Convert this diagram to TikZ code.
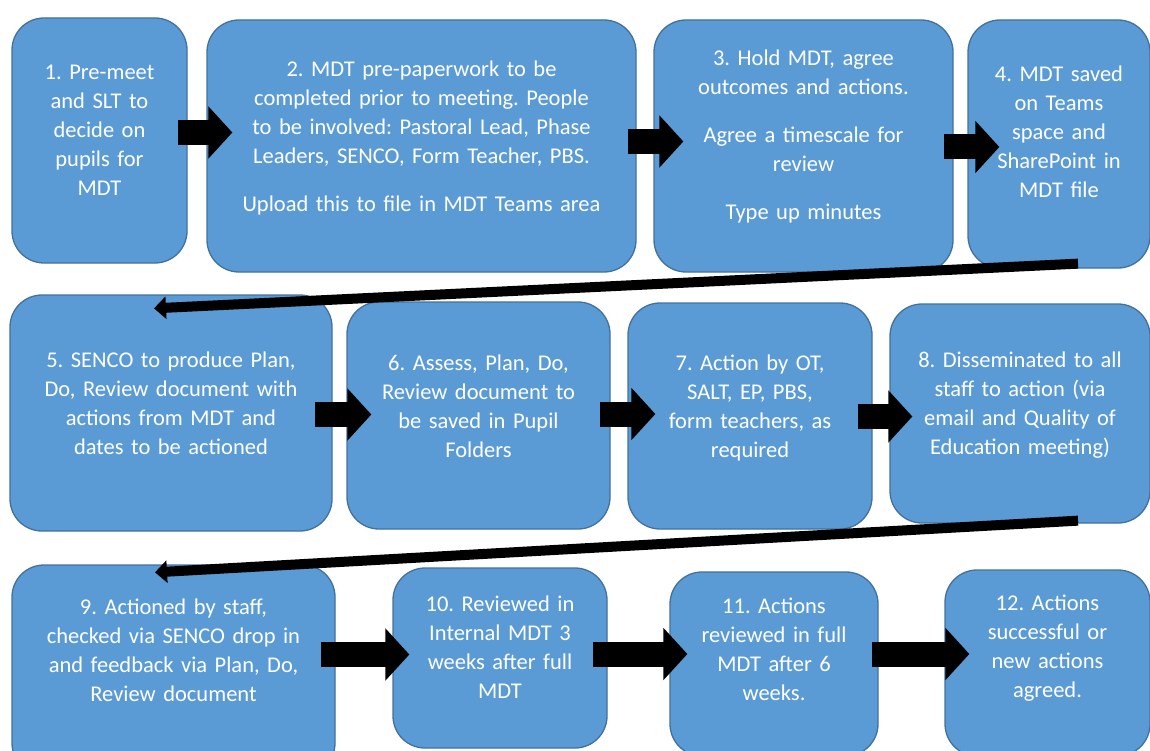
\documentclass[tikz,border=0pt]{standalone}
\usepackage{fontspec}
\setmainfont{Carlito}
\usetikzlibrary{arrows.meta,calc}
\definecolor{boxblue}{HTML}{5B9BD5}
\definecolor{boxline}{HTML}{41719C}
\frenchspacing

\begin{document}
\begin{tikzpicture}[x=1pt,y=-1pt,
  box/.style={draw=boxline, fill=boxblue, line width=1.3pt, rounded corners=32pt,
    inner sep=0pt, align=center, text=white, font=\fontsize{22.5}{29}\selectfont},
  blockarrow/.style={line width=25pt, -{Triangle[length=24pt,width=51pt]}},
  returnarrow/.style={line width=10pt, -{Triangle[length=12pt,width=22pt]}}]
\useasboundingbox (0,0) rectangle (1150,751);

\node[box, text width=175pt, text height=62pt, text depth=183pt] (b1) at (99.5,140.5)
  {1. Pre-meet\\and SLT to\\decide on\\pupils for\\MDT};
\node[box, text width=429pt, text height=57pt, text depth=195pt] (b2) at (421.5,146)
  {2. MDT pre-paperwork to be\\completed prior to meeting. People\\to be involved: Pastoral Lead, Phase\\Leaders, SENCO, Form Teacher, PBS.\\[19pt]Upload this to file in MDT Teams area};
\node[box, text width=299pt, text height=46pt, text depth=206pt] (b3) at (803.5,146)
  {3. Hold MDT, agree\\outcomes and actions.\\[19pt]Agree a timescale for\\review\\[19pt]Type up minutes};
\node[box, text width=182pt, text height=62pt, text depth=186pt] (b4) at (1059,144)
  {4. MDT saved\\on Teams\\space and\\SharePoint in\\MDT file};

\node[box, text width=322pt, text height=72pt, text depth=164pt] (b5) at (171,413)
  {5. SENCO to produce Plan,\\Do, Review document with\\actions from MDT and\\dates to be actioned};
\node[box, text width=263pt, text height=68pt, text depth=159pt] (b6) at (478.5,415.5)
  {6. Assess, Plan, Do,\\Review document to\\be saved in Pupil\\Folders};
\node[box, text width=244pt, text height=67pt, text depth=159pt] (b7) at (750,416)
  {7. Action by OT,\\SALT, EP, PBS,\\form teachers, as\\required};
\node[box, text width=260pt, text height=63pt, text depth=156pt] (b8) at (1020,413.5)
  {8. Disseminated to all\\staff to action (via\\email and Quality of\\Education meeting)};

\node[box, text width=323pt, text height=49pt, text depth=161pt] (b9) at (173.5,670)
  {9. Actioned by staff,\\checked via SENCO drop in\\and feedback via Plan, Do,\\Review document};
\node[box, text width=214pt, text height=43pt, text depth=137pt] (b10) at (500,658)
  {10. Reviewed in\\Internal MDT 3\\weeks after full\\MDT};
\node[box, text width=208pt, text height=41pt, text depth=143pt] (b11) at (774,664)
  {11. Actions\\reviewed in full\\MDT after 6\\weeks.};
\node[box, text width=205pt, text height=40pt, text depth=146pt] (b12) at (1047.5,663)
  {12. Actions\\successful or\\new actions\\agreed.};

\draw[blockarrow] ($(b1.east)+(-10,-8)$) -- ($(b2.west)+(26,-13.5)$);
\draw[blockarrow] ($(b2.east)+(-9,-4.5)$) -- ($(b3.west)+(30,-4.5)$);
\draw[blockarrow] ($(b3.east)+(-10,1)$) -- ($(b4.west)+(32,3)$);
\draw[returnarrow] ($(b4.south)+(19,-5)$) -- ($(b5.north)+(-17,14)$);

\draw[blockarrow] ($(b5.east)+(-18,1.5)$) -- ($(b6.west)+(25,-1)$);
\draw[blockarrow] ($(b6.east)+(-11,-1.5)$) -- ($(b7.west)+(28,-2)$);
\draw[blockarrow] ($(b7.east)+(-15,0.5)$) -- ($(b8.west)+(23,3)$);
\draw[returnarrow] ($(b8.south)+(58,-3)$) -- ($(b9.north)+(-18.5,8)$);

\draw[blockarrow] ($(b9.east)+(-15,-15.5)$) -- ($(b10.west)+(17,-3.5)$);
\draw[blockarrow] ($(b10.east)+(-15,-4)$) -- ($(b11.west)+(18,-10)$);
\draw[blockarrow] ($(b11.east)+(-7,-10)$) -- ($(b12.west)+(25,-9)$);
\end{tikzpicture}
\end{document}
